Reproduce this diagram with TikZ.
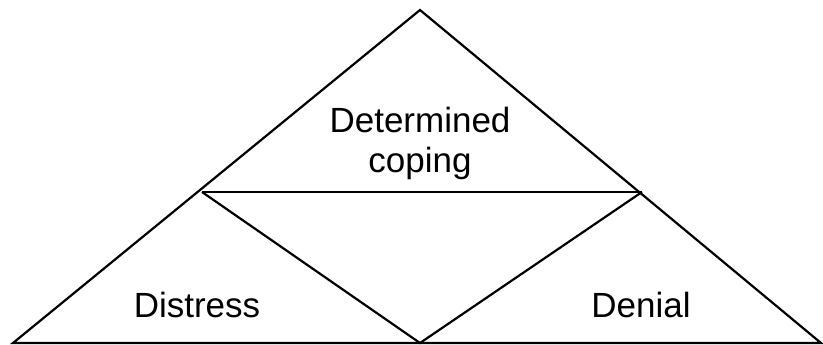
\documentclass[tikz,border=0pt]{standalone}
\usepackage{fontspec}
\setmainfont{Liberation Sans}
\usepackage{tikz}
\usetikzlibrary{positioning}
\tikzset{edge/.style={draw=black, line width=2.2pt, line join=miter}}
\tikzset{lbl/.style={font=\fontsize{35}{40}\selectfont, inner sep=0pt, align=center}}

\begin{document}
\begin{tikzpicture}[x=1pt, y=-1pt]
    \useasboundingbox (0,0) rectangle (823,345);

    \coordinate (top) at (420,10);
    \coordinate (bl) at (13,343);
    \coordinate (br) at (821,343);
    \coordinate (ml) at (202,192);
    \coordinate (mr) at (642,192);
    \coordinate (bm) at (420,343);

    \node(coping)[lbl] at (420,143) {Determined\\coping};
    \node(distress)[lbl, anchor=base] at (197,317) {Distress};
    \node(denial)[lbl, anchor=base] at (641,317) {Denial};

    \draw [edge] (bl) -- (top) -- (br) -- cycle;
    \draw [edge] (ml) -- (mr);
    \draw [edge] (ml) -- (bm) -- (mr);

\end{tikzpicture}
\end{document}
